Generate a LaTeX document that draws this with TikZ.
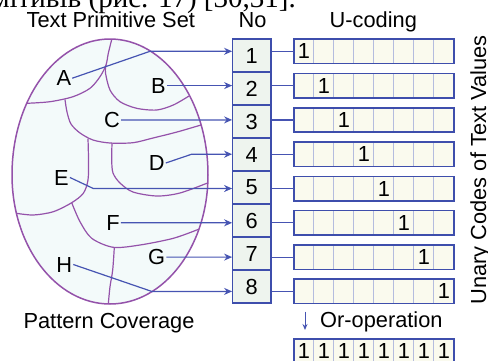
\documentclass[tikz,border=0pt]{standalone}
\usepackage{fontspec}
\setmainfont{Liberation Sans}
\newfontfamily\bodyserif{Liberation Serif}
\usetikzlibrary{arrows.meta}

\definecolor{linkblue}{RGB}{70,84,178}
\definecolor{barblue}{RGB}{62,78,172}
\definecolor{cellgrid}{RGB}{180,188,222}
\definecolor{nofill}{RGB}{238,244,238}
\definecolor{barfill}{RGB}{250,250,238}
\definecolor{regionline}{RGB}{148,82,170}
\definecolor{eggfill}{RGB}{243,250,250}

\tikzset{
  lbl/.style={font=\fontsize{21.8}{25}\selectfont, inner sep=1pt},
  numbox/.style={draw=barblue, line width=1.1pt, fill=nofill, minimum width=38.3pt,
    minimum height=33pt, inner sep=0pt, font=\fontsize{21.8}{25}\selectfont},
  codebar/.style={fill=barfill, minimum width=160pt, minimum height=24pt, inner sep=0pt},
  barframe/.style={draw=barblue, line width=1.6pt},
  cellline/.style={draw=cellgrid, line width=0.9pt},
  link/.style={draw=linkblue, line width=1.2pt},
  linkarrow/.style={link, -{Stealth[length=8pt,width=7pt]}},
  region/.style={draw=regionline, line width=1.2pt},
}

\begin{document}
\begin{tikzpicture}[x=1pt,y=-1pt]
\useasboundingbox (0,0) rectangle (488,360);
\clip (0,0) rectangle (488,360);

% running text of the page above the figure
\node[anchor=base east, inner sep=0pt, font=\bodyserif\fontsize{29}{32}\selectfont]
  (caption) at (296,7.5) {примітивів (рис. 17) [30,31].};

% column headings
\node[lbl, anchor=base] (setTitle) at (110.8,27.3) {Text Primitive Set};
\node[lbl, anchor=base] (noTitle) at (252.5,27.3) {No};
\node[lbl, anchor=base] (codeTitle) at (373.3,27.3) {U-coding};

% the egg of text primitives
\path[region, fill=eggfill, line width=1.5pt] (12,175)
  arc[start angle=180, end angle=360, x radius=98, y radius=136]
  arc[start angle=0, end angle=180, x radius=98, y radius=129] -- cycle;

% region boundaries
\draw[region] plot[smooth] coordinates {(111.7,39.5) (108.3,53.3) (106,65) (100,76.7)
  (90,88.3) (73,96.7) (50,101.7) (26.7,103.3)};
\draw[region] plot[smooth] coordinates {(106,65) (105.5,73) (110,90) (120,101.7)
  (136.7,108.3) (156.7,110) (173.3,105) (189,96)};
\draw[region] plot[smooth] coordinates {(65,99.5) (67,112) (71,124) (80,133) (93,140)
  (110,143) (133,142.7) (153,138) (177,132) (201,125)};
\draw[region] plot[smooth] coordinates {(88,138.5) (88.5,160) (88,180) (83.3,193.3)
  (71.7,202.7) (53.3,211.7) (33.3,215) (16.5,213.3)};
\draw[region] plot[smooth] coordinates {(71.7,202.7) (80,221.7) (91.7,238.3)
  (113.3,247.3) (140,245) (173.3,238.3) (198,229.5)};
\draw[region] plot[smooth] coordinates {(112,143) (111.7,160) (113,173) (120,183)
  (133,192) (157,196) (180,193) (207.5,183)};
\draw[region] plot[smooth] coordinates {(114.3,247.5) (112.7,270) (110,286.7) (108.3,304)};

% region letters
\node[lbl] (A) at (63.8,78.2) {A};
\node[lbl] (B) at (158.3,85.6) {B};
\node[lbl] (C) at (112,119.9) {C};
\node[lbl] (D) at (156.7,163) {D};
\node[lbl] (E) at (61.5,177.5) {E};
\node[lbl] (F) at (113,222.8) {F};
\node[lbl] (G) at (156.7,257.1) {G};
\node[lbl] (H) at (64.2,264.5) {H};

% number column and unary code bars
\foreach \k in {1,...,8} {
  \node[numbox] (n\k) at (251.8,{55.5+33*(\k-1)}) {\k};
  \node[codebar] (b\k) at (374,{51.3+34.3*(\k-1)}) {};
  \foreach \j in {1,...,7}
    \draw[cellline] ([xshift=20*\j pt]b\k.north west) -- ([xshift=20*\j pt]b\k.south west);
  \draw[barframe] (b\k.north west) rectangle (b\k.south east);
  \node[lbl] (d\k) at ({304+20*(\k-1)},{51.3+34.3*(\k-1)}) {1};
  \draw[link] (b\k.west -| n\k.east) -- (b\k.west);
}

% bends of the slanted leaders
\coordinate (bendA) at (150,51.3);
\coordinate (bendD) at (191.7,154.2);
\coordinate (bendE) at (93.3,188.5);
\coordinate (bendH) at (151.7,291.4);

% leaders from the regions to their numbers
\draw[linkarrow] (A.east) -- (bendA) -- (n1.west |- b1.west);
\draw[linkarrow] (B.east) -- (n2.west |- b2.west);
\draw[linkarrow] (C.east) -- (n3.west |- b3.west);
\draw[linkarrow] (D.east) -- (bendD) -- (n4.west |- b4.west);
\draw[linkarrow] (E.east) -- (bendE) -- (n5.west |- b5.west);
\draw[linkarrow] (F.east) -- (n6.west |- b6.west);
\draw[linkarrow] (G.east) -- (n7.west |- b7.west);
\draw[linkarrow] (H.east) -- (bendH) -- (n8.west |- b8.west);

% captions below
\node[lbl, anchor=base] (coverage) at (109,328) {Pattern Coverage};
\coordinate (orFrom) at (305,311.7);
\coordinate (orTo) at (305,330);
\draw[link, line width=1pt, -{Stealth[length=6pt,width=5pt]}] (orFrom) -- (orTo);
\node[lbl, anchor=base west, inner sep=0pt] (orOp) at (320,327.5) {Or-operation};

% result of the or-operation
\node[codebar] (bor) at (374,351.3) {};
\foreach \j in {1,...,7}
  \draw[cellline] ([xshift=20*\j pt]bor.north west) -- ([xshift=20*\j pt]bor.south west);
\draw[barframe] (bor.north west) rectangle (bor.south east);
\foreach \j in {1,...,8}
  \node[lbl] (r\j) at ({304+20*(\j-1)},351.3) {1};

% side caption
\node[lbl, rotate=90, anchor=base] (unary) at (486,170) {Unary Codes of Text Values};
\end{tikzpicture}
\end{document}
